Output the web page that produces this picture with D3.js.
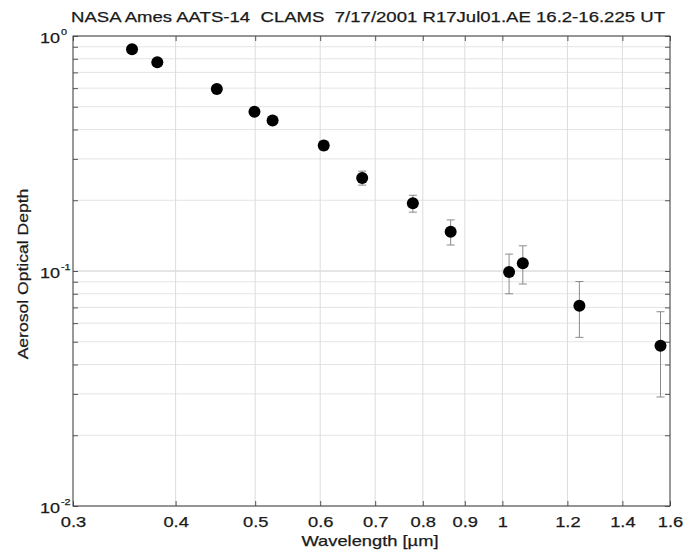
<!DOCTYPE html>
<html>
<head>
<meta charset="utf-8">
<script src="https://cdn.jsdelivr.net/npm/d3@7/dist/d3.min.js"></script>
<style>
  html, body { margin: 0; padding: 0; background: #fff; }
  svg text { font-family: "Liberation Sans", Arial, Helvetica, sans-serif; fill: #1a1a1a; stroke: #1a1a1a; stroke-width: 0.25px; }
</style>
</head>
<body>
<svg id="chart" width="692" height="556"></svg>
<script>
// AATS-14 channel wavelengths (µm)
const wavelengths = [0.354, 0.380, 0.449, 0.499, 0.525, 0.606, 0.675, 0.778, 0.865, 1.019, 1.059, 1.241, 1.558];
// Aerosol optical depth per channel
const aod = [0.878, 0.774, 0.595, 0.476, 0.437, 0.342, 0.249, 0.194, 0.147, 0.099, 0.108, 0.0712, 0.0481];
// AOD uncertainty per channel
const aodErr = [0.015, 0.015, 0.014, 0.014, 0.014, 0.015, 0.017, 0.016, 0.018, 0.019, 0.020, 0.019, 0.019];

const xTicks = [0.3, 0.4, 0.5, 0.6, 0.7, 0.8, 0.9, 1, 1.2, 1.4, 1.6];
const xTickLabels = ["0.3", "0.4", "0.5", "0.6", "0.7", "0.8", "0.9", "1", "1.2", "1.4", "1.6"];
const yDecades = [0.01, 0.1, 1];
const yDecadeExp = ["-2", "-1", "0"];

const titleText = "NASA Ames AATS-14  CLAMS  7/17/2001 R17Jul01.AE 16.2-16.225 UT";
const xLabelText = "Wavelength [\u00b5m]";
const yLabelText = "Aerosol Optical Depth";

const svg = d3.select("#chart");
const pL = 73, pR = 670, pT = 36, pB = 506;
const x = d3.scaleLog().domain([0.3, 1.6]).range([pL, pR]);
const y = d3.scaleLog().domain([0.01, 1]).range([pB, pT]);

// widen glyphs horizontally
function stretch(sel, f) {
  sel.each(function () {
    const L = this.getComputedTextLength();
    this.setAttribute("textLength", L * f);
    this.setAttribute("lengthAdjust", "spacingAndGlyphs");
  });
}

// minor y values (2..9 per decade)
const yMinor = [];
[0.01, 0.1].forEach(d => { for (let k = 2; k <= 9; k++) yMinor.push(d * k); });

// grid
const grid = svg.append("g");
grid.selectAll("line.gy").data(yMinor).join("line")
  .attr("x1", pL).attr("x2", pR)
  .attr("y1", d => y(d)).attr("y2", d => y(d))
  .attr("stroke", "#e4e4e4").attr("stroke-width", 1);
grid.selectAll("line.gyM").data(yDecades).join("line")
  .attr("x1", pL).attr("x2", pR)
  .attr("y1", d => y(d)).attr("y2", d => y(d))
  .attr("stroke", "#cccccc").attr("stroke-width", 1);
grid.selectAll("line.gx").data(xTicks).join("line")
  .attr("x1", d => x(d)).attr("x2", d => x(d))
  .attr("y1", pT).attr("y2", pB)
  .attr("stroke", "#dcdcdc").attr("stroke-width", 1);

// axis ticks (inward) on all four sides
const xAxisB = d3.axisBottom(x).tickValues(xTicks)
  .tickFormat((d, i) => xTickLabels[i]).tickSize(-5).tickPadding(10);
const gxb = svg.append("g").attr("transform", `translate(0,${pB})`).call(xAxisB);
gxb.select(".domain").remove();
gxb.selectAll("line").attr("stroke", "#555");
gxb.selectAll("text").attr("font-size", 15).attr("fill", "#1a1a1a")
  .style("font-family", "'Liberation Sans', Arial, sans-serif").call(stretch, 1.22);

const xAxisT = d3.axisTop(x).tickValues(xTicks).tickFormat("").tickSize(-5);
const gxt = svg.append("g").attr("transform", `translate(0,${pT})`).call(xAxisT);
gxt.select(".domain").remove();
gxt.selectAll("line").attr("stroke", "#555");

const yAll = yMinor.concat(yDecades);
const yAxisL = d3.axisLeft(y).tickValues(yAll).tickFormat("").tickSize(-5);
const gyl = svg.append("g").attr("transform", `translate(${pL},0)`).call(yAxisL);
gyl.select(".domain").remove();
gyl.selectAll("line").attr("stroke", "#555");
const yAxisR = d3.axisRight(y).tickValues(yAll).tickFormat("").tickSize(-5);
const gyr = svg.append("g").attr("transform", `translate(${pR},0)`).call(yAxisR);
gyr.select(".domain").remove();
gyr.selectAll("line").attr("stroke", "#555");

// frame
svg.append("rect").attr("x", pL).attr("y", pT)
  .attr("width", pR - pL).attr("height", pB - pT)
  .attr("fill", "none").attr("stroke", "#444").attr("stroke-width", 1);

// y decade labels 10^n
const yl = svg.append("g");
yDecades.forEach((d, i) => {
  const base = yl.append("text").attr("x", 60).attr("y", y(d) + 7)
    .attr("text-anchor", "end").attr("font-size", 15).text("10");
  stretch(base, 1.2);
  const ex = yl.append("text").attr("x", 61).attr("y", y(d) - 1)
    .attr("text-anchor", "start").attr("font-size", 9).text(yDecadeExp[i]);
  stretch(ex, 1.2);
});

// error bars
const pts = wavelengths.map((w, i) => ({ w, v: aod[i], e: aodErr[i] }));
const eb = svg.append("g").attr("stroke", "#8a8a8a").attr("stroke-width", 1);
eb.selectAll("line.bar").data(pts).join("line")
  .attr("x1", d => x(d.w)).attr("x2", d => x(d.w))
  .attr("y1", d => y(d.v - d.e)).attr("y2", d => y(d.v + d.e));
eb.selectAll("line.capt").data(pts).join("line")
  .attr("x1", d => x(d.w) - 4).attr("x2", d => x(d.w) + 4)
  .attr("y1", d => y(d.v + d.e)).attr("y2", d => y(d.v + d.e));
eb.selectAll("line.capb").data(pts).join("line")
  .attr("x1", d => x(d.w) - 4).attr("x2", d => x(d.w) + 4)
  .attr("y1", d => y(d.v - d.e)).attr("y2", d => y(d.v - d.e));

// markers
svg.append("g").selectAll("circle").data(pts).join("circle")
  .attr("cx", d => x(d.w)).attr("cy", d => y(d.v)).attr("r", 6)
  .attr("fill", "#000");

// title and axis labels
svg.append("text").attr("x", 368).attr("y", 22).attr("text-anchor", "middle")
  .attr("font-size", 15).style("white-space", "pre").text(titleText)
  .attr("textLength", 594).attr("lengthAdjust", "spacingAndGlyphs");
svg.append("text").attr("x", 370).attr("y", 546).attr("text-anchor", "middle")
  .attr("font-size", 15).text(xLabelText).call(stretch, 1.22);
svg.append("text").attr("transform", "translate(28,274) rotate(-90)")
  .attr("text-anchor", "middle").attr("font-size", 15).text(yLabelText).call(stretch, 1.17);
</script>
</body>
</html>
